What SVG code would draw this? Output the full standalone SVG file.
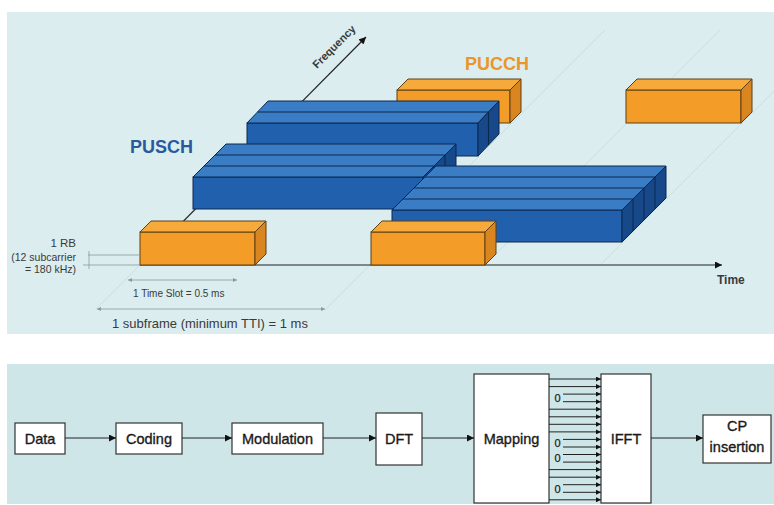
<svg xmlns="http://www.w3.org/2000/svg" width="774" height="505" viewBox="0 0 774 505">
<style>
.bg1{fill:#dbedef}
.bg2{fill:#cfe6e9}
.faint{stroke:#c3d8da;stroke-width:0.7;fill:none}
.dim{stroke:#8a9a9c;stroke-width:0.8;fill:none}
.bf{fill:#2060ad;stroke:#0c2850;stroke-width:1}
.bt{fill:#3b7dc5;stroke:#0c2850;stroke-width:1}
.bs{fill:#17498a;stroke:#0c2850;stroke-width:1}
.bl{stroke:#0c2850;stroke-width:1.1;fill:none}
.of{fill:#f39c27;stroke:#5e3f12;stroke-width:1}
.ot{fill:#f6aa3c;stroke:#5e3f12;stroke-width:1}
.os{fill:#d98621;stroke:#5e3f12;stroke-width:1}
.axis{stroke:#222;stroke-width:1.2;fill:none}
.lbl{font-family:"Liberation Sans",Arial,sans-serif;fill:#3a3a3a}
.box{fill:#fff;stroke:#333;stroke-width:1.2}
.btxt{font-family:"Liberation Sans",Arial,sans-serif;font-size:14.5px;fill:#1a1a1a;stroke:#1a1a1a;stroke-width:0.35;text-anchor:middle}
.conn{stroke:#222;stroke-width:1.2;fill:none}
.sub{stroke:#222;stroke-width:1;fill:none}
.zero{font-family:"Liberation Sans",Arial,sans-serif;font-size:11px;fill:#222;stroke:#222;stroke-width:0.25;text-anchor:middle}
</style>
<defs>
<marker id="ah" viewBox="0 0 10 10" refX="10" refY="5" markerWidth="8" markerHeight="7" markerUnits="userSpaceOnUse" orient="auto"><path d="M0,0 L10,5 L0,10 z" fill="#111"/></marker>
<marker id="ahs" viewBox="0 0 10 10" refX="10" refY="5" markerWidth="6" markerHeight="5" markerUnits="userSpaceOnUse" orient="auto"><path d="M0,0 L10,5 L0,10 z" fill="#111"/></marker>
<marker id="ahd" viewBox="0 0 10 10" refX="10" refY="5" markerWidth="5" markerHeight="4" markerUnits="userSpaceOnUse" orient="auto-start-reverse"><path d="M0,0 L10,5 L0,10 z" fill="#8a9a9c"/></marker>
</defs>

<rect class="bg1" x="7" y="12" width="767" height="322"/>
<rect class="bg2" x="7" y="364" width="767" height="140"/>

<g id="floor-grid">
<line class="faint" x1="96" y1="309" x2="140" y2="265"/>
<line class="faint" x1="325" y1="310" x2="605" y2="30"/>
<line class="faint" x1="485" y1="265" x2="720" y2="30"/>
<line class="faint" x1="600" y1="265" x2="774" y2="91"/>
</g>

<g id="frequency-axis">
<line class="axis" x1="140" y1="265" x2="366" y2="37" marker-end="url(#ah)"/>
<text class="lbl" transform="translate(317,69) rotate(-45)" font-size="11" font-weight="bold" fill="#2a2a2a">Frequency</text>
</g>

<g id="pucch-1">
<rect class="of" x="397" y="90" width="113" height="33"/>
<polygon class="ot" points="397,90 510,90 521,79 408,79"/>
<polygon class="os" points="510,90 521,79 521,112 510,123"/>
</g>
<g id="pucch-2">
<rect class="of" x="626" y="90" width="115" height="33"/>
<polygon class="ot" points="626,90 741,90 752,79 637,79"/>
<polygon class="os" points="741,90 752,79 752,112 741,123"/>
</g>

<g id="pusch-a">
<rect class="bf" x="247" y="123" width="231" height="33"/>
<polygon class="bt" points="247,123 478,123 499,101 268,101"/>
<polygon class="bs" points="478,123 499,101 499,134 478,156"/>
<line class="bl" x1="257.5" y1="112" x2="488.5" y2="112"/>
<line class="bl" x1="488.5" y1="112" x2="488.5" y2="145"/>
</g>
<g id="pusch-b">
<rect class="bf" x="193" y="177" width="230" height="32"/>
<polygon class="bt" points="193,177 423,177 456,144 226,144"/>
<polygon class="bs" points="423,177 456,144 456,176 423,209"/>
<line class="bl" x1="204" y1="166" x2="434" y2="166"/>
<line class="bl" x1="215" y1="155" x2="445" y2="155"/>
<line class="bl" x1="434" y1="166" x2="434" y2="198"/>
<line class="bl" x1="445" y1="155" x2="445" y2="187"/>
</g>
<g id="pusch-c">
<rect class="bf" x="392" y="210" width="230" height="32"/>
<polygon class="bt" points="392,210 622,210 666,166 436,166"/>
<polygon class="bs" points="622,210 666,166 666,198 622,242"/>
<line class="bl" x1="403" y1="199" x2="633" y2="199"/>
<line class="bl" x1="414" y1="188" x2="644" y2="188"/>
<line class="bl" x1="425" y1="177" x2="655" y2="177"/>
<line class="bl" x1="633" y1="199" x2="633" y2="231"/>
<line class="bl" x1="644" y1="188" x2="644" y2="220"/>
<line class="bl" x1="655" y1="177" x2="655" y2="209"/>
</g>

<g id="time-axis">
<line class="axis" x1="140" y1="265" x2="722" y2="265" marker-end="url(#ah)"/>
<text class="lbl" x="717" y="284" font-size="12" font-weight="bold" fill="#222">Time</text>
</g>

<g id="pucch-3">
<rect class="of" x="140" y="232" width="115" height="33"/>
<polygon class="ot" points="140,232 255,232 266,221 151,221"/>
<polygon class="os" points="255,232 266,221 266,254 255,265"/>
</g>
<g id="pucch-4">
<rect class="of" x="371" y="232" width="114" height="33"/>
<polygon class="ot" points="371,232 485,232 496,221 382,221"/>
<polygon class="os" points="485,232 496,221 496,254 485,265"/>
</g>

<g id="labels-top">
<text x="130" y="153" font-family="Liberation Sans,Arial,sans-serif" font-size="18" font-weight="bold" fill="#2a5a9c">PUSCH</text>
<text x="465" y="70" font-family="Liberation Sans,Arial,sans-serif" font-size="18" font-weight="bold" fill="#ea962b">PUCCH</text>
<text class="lbl" x="76" y="247" font-size="11.5" text-anchor="end">1 RB</text>
<text class="lbl" x="76" y="261" font-size="10.5" text-anchor="end">(12 subcarrier</text>
<text class="lbl" x="76" y="273" font-size="10.5" text-anchor="end">= 180 kHz)</text>
<text class="lbl" x="133" y="297" font-size="10">1 Time Slot = 0.5 ms</text>
<text class="lbl" x="112" y="328" font-size="13">1 subframe (minimum TTI) = 1 ms</text>
</g>

<g id="dimensions">
<line class="dim" x1="88" y1="255" x2="140" y2="255"/>
<line class="dim" x1="83" y1="265" x2="140" y2="265"/>
<line class="dim" x1="89" y1="251" x2="89" y2="269"/>
<line class="dim" x1="128" y1="280" x2="237" y2="280" marker-start="url(#ahd)" marker-end="url(#ahd)"/>
<line class="dim" x1="97" y1="309" x2="325" y2="309" marker-start="url(#ahd)" marker-end="url(#ahd)"/>
</g>

<g id="node-data"><rect class="box" x="15" y="423" width="50" height="31"/><text class="btxt" x="40" y="444">Data</text></g>
<g id="node-coding"><rect class="box" x="116" y="423" width="66" height="31"/><text class="btxt" x="149" y="444">Coding</text></g>
<g id="node-modulation"><rect class="box" x="232" y="423" width="91" height="31"/><text class="btxt" x="277.5" y="444">Modulation</text></g>
<g id="node-dft"><rect class="box" x="376" y="413" width="46" height="52"/><text class="btxt" x="399" y="444">DFT</text></g>
<g id="node-mapping"><rect class="box" x="474" y="374" width="75" height="129"/><text class="btxt" x="511.5" y="444">Mapping</text></g>
<g id="node-ifft"><rect class="box" x="601" y="374" width="50" height="129"/><text class="btxt" x="626" y="444">IFFT</text></g>
<g id="node-cp"><rect class="box" x="703" y="415" width="68" height="48"/><text class="btxt" x="737" y="431">CP</text><text class="btxt" x="737" y="452">insertion</text></g>

<g id="connectors">
<line class="conn" x1="65" y1="438" x2="116" y2="438" marker-end="url(#ah)"/>
<line class="conn" x1="182" y1="438" x2="232" y2="438" marker-end="url(#ah)"/>
<line class="conn" x1="323" y1="438" x2="376" y2="438" marker-end="url(#ah)"/>
<line class="conn" x1="422" y1="438" x2="474" y2="438" marker-end="url(#ah)"/>
<line class="conn" x1="651" y1="438" x2="703" y2="438" marker-end="url(#ah)"/>
<line class="sub" x1="549" y1="379" x2="601" y2="379" marker-end="url(#ahs)"/>
<line class="sub" x1="549" y1="386.6" x2="601" y2="386.6" marker-end="url(#ahs)"/>
<line class="sub" x1="563" y1="394.1" x2="601" y2="394.1" marker-end="url(#ahs)"/>
<line class="sub" x1="563" y1="401.7" x2="601" y2="401.7" marker-end="url(#ahs)"/>
<line class="sub" x1="549" y1="409.2" x2="601" y2="409.2" marker-end="url(#ahs)"/>
<line class="sub" x1="549" y1="416.8" x2="601" y2="416.8" marker-end="url(#ahs)"/>
<line class="sub" x1="549" y1="424.3" x2="601" y2="424.3" marker-end="url(#ahs)"/>
<line class="sub" x1="549" y1="431.9" x2="601" y2="431.9" marker-end="url(#ahs)"/>
<line class="sub" x1="563" y1="439.4" x2="601" y2="439.4" marker-end="url(#ahs)"/>
<line class="sub" x1="563" y1="447" x2="601" y2="447" marker-end="url(#ahs)"/>
<line class="sub" x1="563" y1="454.5" x2="601" y2="454.5" marker-end="url(#ahs)"/>
<line class="sub" x1="563" y1="462.1" x2="601" y2="462.1" marker-end="url(#ahs)"/>
<line class="sub" x1="549" y1="469.6" x2="601" y2="469.6" marker-end="url(#ahs)"/>
<line class="sub" x1="549" y1="477.2" x2="601" y2="477.2" marker-end="url(#ahs)"/>
<line class="sub" x1="563" y1="484.7" x2="601" y2="484.7" marker-end="url(#ahs)"/>
<line class="sub" x1="563" y1="492.3" x2="601" y2="492.3" marker-end="url(#ahs)"/>
<line class="sub" x1="549" y1="499.8" x2="601" y2="499.8" marker-end="url(#ahs)"/>
<text class="zero" x="557.5" y="402">0</text>
<text class="zero" x="557.5" y="447">0</text>
<text class="zero" x="557.5" y="462">0</text>
<text class="zero" x="557.5" y="492.5">0</text>
</g>
</svg>
